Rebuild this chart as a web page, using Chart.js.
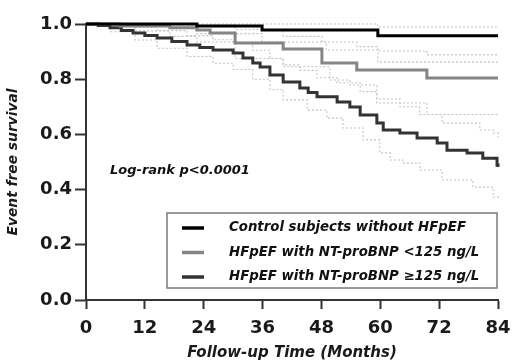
<!DOCTYPE html>
<html><head><meta charset="utf-8">
<script src="https://cdn.jsdelivr.net/npm/chart.js@4.4.1/dist/chart.umd.min.js"></script>
<style>html,body{margin:0;padding:0;background:#fff}#wrap{width:513px;height:362px}</style>
</head><body><div id="wrap"><canvas id="c" width="513" height="362"></canvas></div>
<script>
// ---------- data ----------
const xTicks = [0, 12, 24, 36, 48, 60, 72, 84];
const yTicks = [0.0, 0.2, 0.4, 0.6, 0.8, 1.0];
const seriesLabels = [
  'Control subjects without HFpEF',
  'HFpEF with NT-proBNP <125 ng/L',
  'HFpEF with NT-proBNP \u2265125 ng/L'
];
const annotationText = 'Log-rank p<0.0001';
const xTitle = 'Follow-up Time (Months)';
const yTitle = 'Event free survival';

// Control
const ctrlMonths = [0, 22.6, 35.9, 59.5, 84];
const ctrlSurv   = [1.0, 0.993, 0.978, 0.957, 0.957];
const ctrlUpMonths = [0, 59.5, 84];
const ctrlUp       = [1.0, 0.989, 0.989];
const ctrlLoMonths = [0, 10, 22.6, 35.9, 49.0, 59.5, 84];
const ctrlLo       = [1.0, 0.99, 0.965, 0.935, 0.906, 0.862, 0.862];

// HFpEF NT-proBNP <125
const lowMonths = [0, 6.9, 17.1, 22.6, 25.3, 30.4, 40.2, 48.1, 55.2, 69.5, 84];
const lowSurv   = [1.0, 0.993, 0.986, 0.978, 0.967, 0.931, 0.909, 0.859, 0.833, 0.804, 0.804];
const lowUpMonths = [0, 22.6, 30.4, 40.2, 48.1, 55.2, 59.5, 69.5, 84];
const lowUp       = [1.0, 0.997, 0.98, 0.955, 0.935, 0.918, 0.902, 0.888, 0.888];
const lowLoMonths = [0, 10, 17.1, 22.6, 30.4, 40.2, 49.7, 53.8, 59.3, 69.5, 84];
const lowLo       = [1.0, 0.975, 0.955, 0.935, 0.875, 0.845, 0.797, 0.779, 0.714, 0.672, 0.672];

// HFpEF NT-proBNP >=125
const highMonths = [0, 2.5, 4.9, 7.2, 9.6, 12.0, 14.5, 17.5, 20.6, 23.2, 25.9, 30.0, 32.0, 34.0, 35.5, 37.5, 40.2, 43.6, 45.3, 47.1, 51.2, 53.8, 55.9, 59.3, 60.6, 64.0, 67.5, 71.6, 73.6, 77.7, 80.9, 83.8, 84];
const highSurv   = [1.0, 0.995, 0.986, 0.976, 0.967, 0.958, 0.949, 0.937, 0.924, 0.915, 0.906, 0.895, 0.877, 0.859, 0.844, 0.815, 0.790, 0.768, 0.752, 0.736, 0.717, 0.699, 0.670, 0.641, 0.616, 0.605, 0.587, 0.569, 0.543, 0.533, 0.514, 0.489, 0.482];
const highUpMonths = [0, 5, 10, 14.5, 20.6, 25.9, 30.0, 34.0, 37.5, 40.2, 43.6, 47.1, 51.2, 55.9, 59.3, 64.0, 68.0, 72.6, 78.3, 80.3, 83.0, 84];
const highUp       = [1.0, 0.997, 0.988, 0.976, 0.958, 0.943, 0.934, 0.905, 0.875, 0.852, 0.832, 0.805, 0.787, 0.755, 0.728, 0.700, 0.672, 0.641, 0.641, 0.616, 0.605, 0.590];
const highLoMonths = [0, 5, 10, 14.5, 20.6, 25.9, 30.0, 34.0, 37.5, 40.2, 45.1, 49.1, 52.4, 56.5, 59.9, 62.0, 64.6, 68.1, 72.6, 78.9, 83.0, 84];
const highLo       = [1.0, 0.972, 0.942, 0.912, 0.882, 0.858, 0.835, 0.800, 0.762, 0.725, 0.688, 0.659, 0.623, 0.580, 0.533, 0.507, 0.496, 0.471, 0.435, 0.409, 0.373, 0.370];

// ---------- build ----------
const toPts = (xs, ys) => xs.map((x, i) => ({x: x, y: ys[i]}));
const colors = ['#000000', '#858585', '#333333'];
const ciColor = '#c2c2c2';
const FONT = 'DejaVu Sans';

function curve(label, xs, ys, color) {
  return {label, data: toPts(xs, ys), borderColor: color, borderWidth: 3,
    stepped: 'before', pointRadius: 0, fill: false, clip: 4, isMain: true};
}
function ci(label, xs, ys) {
  return {label, data: toPts(xs, ys), borderColor: ciColor, borderWidth: 1.1,
    borderDash: [2, 2], stepped: 'before', pointRadius: 0, fill: false, clip: 4};
}

const datasets = [
  curve(seriesLabels[0], ctrlMonths, ctrlSurv, colors[0]),
  curve(seriesLabels[1], lowMonths, lowSurv, colors[1]),
  curve(seriesLabels[2], highMonths, highSurv, colors[2]),
  ci('ctrl upper', ctrlUpMonths, ctrlUp),
  ci('ctrl lower', ctrlLoMonths, ctrlLo),
  ci('low upper', lowUpMonths, lowUp),
  ci('low lower', lowLoMonths, lowLo),
  ci('high upper', highUpMonths, highUp),
  ci('high lower', highLoMonths, highLo)
];

const overlayPlugin = {
  id: 'overlay',
  afterDatasetsDraw(chart) {
    const ctx = chart.ctx, a = chart.chartArea;
    ctx.save();
    // annotation
    ctx.font = 'italic bold 13px "' + FONT + '"';
    ctx.fillStyle = '#111';
    ctx.textBaseline = 'middle';
    ctx.textAlign = 'left';
    ctx.fillText(annotationText, a.left + 24, 171);
    // legend box
    const bx = a.right - 331, by = a.bottom - 87, bw = 330, bh = 75;
    ctx.fillStyle = '#fff';
    ctx.fillRect(bx, by, bw, bh);
    ctx.strokeStyle = '#7a7a7a';
    ctx.lineWidth = 1.5;
    ctx.strokeRect(bx, by, bw, bh);
    const mains = chart.data.datasets.filter(d => d.isMain);
    ctx.font = 'italic bold 13.3px "' + FONT + '"';
    mains.forEach((d, i) => {
      const y = by + 15 + i * 24.5;
      ctx.strokeStyle = d.borderColor;
      ctx.lineWidth = 3.5;
      ctx.beginPath();
      ctx.moveTo(bx + 15, y);
      ctx.lineTo(bx + 37, y);
      ctx.stroke();
      ctx.fillStyle = '#111';
      ctx.fillText(d.label, bx + 62, y);
    });
    ctx.restore();
  }
};

new Chart(document.getElementById('c'), {
  type: 'line',
  data: {datasets},
  options: {
    responsive: false,
    animation: false,
    devicePixelRatio: 1,
    layout: {padding: {top: 24, right: 15, left: 0, bottom: 0}},
    plugins: {legend: {display: false}, tooltip: {enabled: false}},
    scales: {
      x: {
        type: 'linear', min: 0, max: 84,
        afterBuildTicks: s => { s.ticks = xTicks.map(v => ({value: v})); },
        afterFit: s => { s.height = 62; s.paddingLeft = 0; s.paddingRight = 0; },
        grid: {drawOnChartArea: false, drawTicks: true, tickLength: 9, tickWidth: 2, tickColor: '#333'},
        border: {display: true, width: 2, color: '#333'},
        ticks: {font: {family: FONT, weight: 'bold', size: 18}, color: '#1a1a1a', padding: 9, maxRotation: 0, autoSkip: false},
        title: {display: true, text: xTitle, color: '#1a1a1a',
          font: {family: FONT, weight: 'bold', style: 'italic', size: 15}, padding: {top: 0, bottom: 0}}
      },
      y: {
        type: 'linear', min: 0, max: 1,
        afterBuildTicks: s => { s.ticks = yTicks.map(v => ({value: v})); },
        afterFit: s => { s.width = 86; s.paddingTop = 0; s.paddingBottom = 0; },
        grid: {drawOnChartArea: false, drawTicks: true, tickLength: 11, tickWidth: 2, tickColor: '#333'},
        border: {display: true, width: 2, color: '#333'},
        ticks: {font: {family: FONT, weight: 'bold', size: 18}, color: '#1a1a1a', padding: 3,
          callback: v => Number(v).toFixed(1), autoSkip: false},
        title: {display: true, text: yTitle, color: '#1a1a1a',
          font: {family: FONT, weight: 'bold', style: 'italic', size: 13.8}, padding: {top: 5, bottom: 0}}
      }
    }
  },
  plugins: [overlayPlugin]
});
</script>
</body></html>
